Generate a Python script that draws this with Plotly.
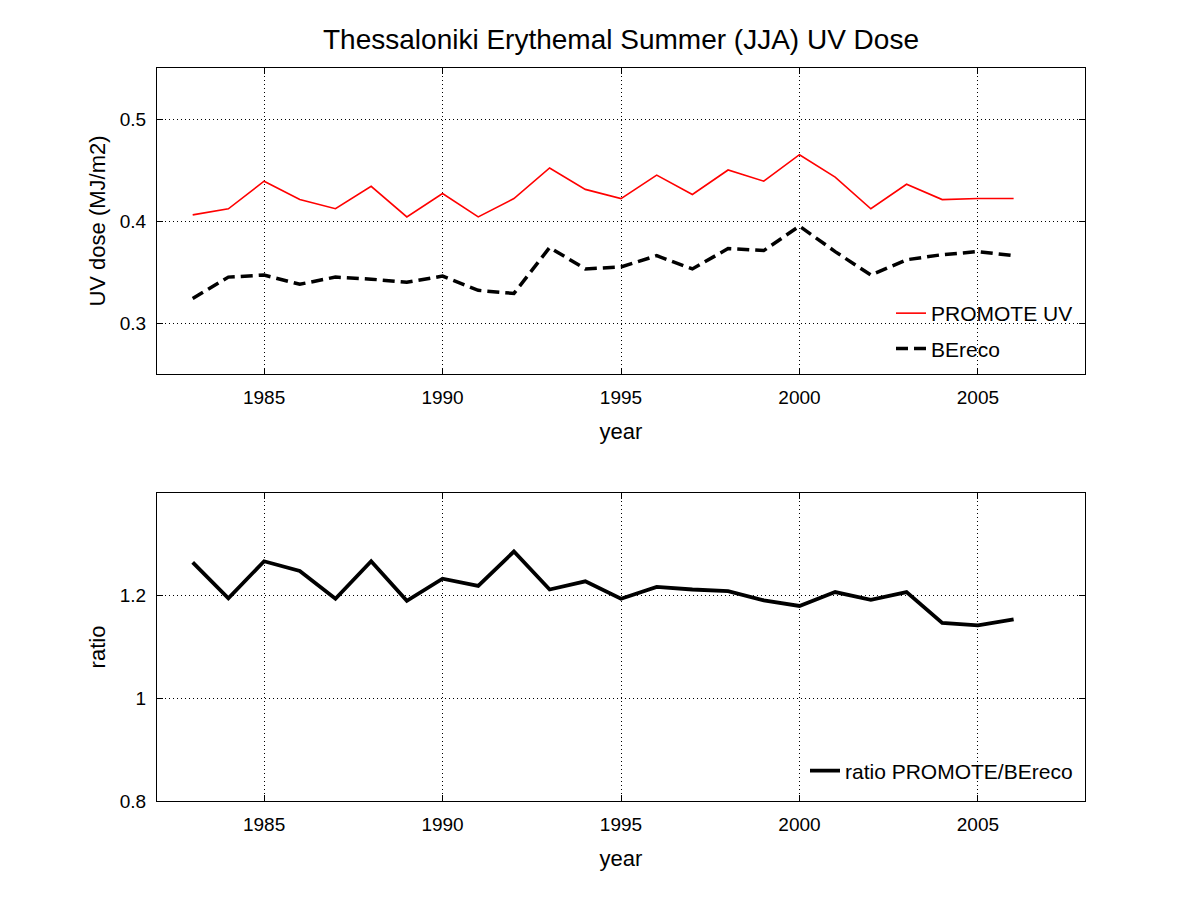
import plotly.graph_objects as go

years = list(range(1983, 2007))
promote_uv = [0.406, 0.412, 0.439, 0.421, 0.412, 0.434, 0.404, 0.427, 0.404, 0.422,
              0.452, 0.431, 0.422, 0.445, 0.426, 0.450, 0.439, 0.465, 0.443, 0.412,
              0.436, 0.421, 0.422, 0.422]
bereco = [0.324, 0.345, 0.347, 0.338, 0.345, 0.343, 0.340, 0.346, 0.332, 0.329,
          0.374, 0.353, 0.355, 0.366, 0.353, 0.373, 0.371, 0.395, 0.370, 0.347,
          0.362, 0.367, 0.370, 0.366]
ratio = [1.265, 1.195, 1.267, 1.248, 1.194, 1.267, 1.190, 1.233, 1.219, 1.286,
         1.212, 1.228, 1.194, 1.217, 1.212, 1.209, 1.191, 1.180, 1.207, 1.192,
         1.207, 1.147, 1.142, 1.154]

x_ticks = [1985, 1990, 1995, 2000, 2005]
top_ticks = [0.3, 0.4, 0.5]
top_tick_text = ["0.3", "0.4", "0.5"]
bot_ticks = [0.8, 1.0, 1.2]
bot_tick_text = ["0.8", "1", "1.2"]

FONT = "Liberation Sans, Arial, sans-serif"

fig = go.Figure()
fig.add_trace(go.Scatter(x=years, y=promote_uv, mode="lines", name="PROMOTE UV",
                         line=dict(color="red", width=1.6), xaxis="x", yaxis="y",
                         legend="legend", legendgroup="a"))
fig.add_trace(go.Scatter(x=years, y=bereco, mode="lines", name="BEreco",
                         line=dict(color="black", width=3.5, dash="12px,6px"),
                         xaxis="x", yaxis="y", legend="legend", legendgroup="b"))
fig.add_trace(go.Scatter(x=years, y=ratio, mode="lines", name="ratio PROMOTE/BEreco",
                         line=dict(color="black", width=3.8),
                         xaxis="x2", yaxis="y2", legend="legend2"))

H = 733.0
top_dom = [(801 - 374) / H, 1.0]
bot_dom = [0.0, (801 - 493) / H]

axis_common = dict(
    showline=True, linecolor="black", linewidth=1, mirror="ticks",
    ticks="inside", ticklen=6, tickcolor="black",
    showgrid=True, gridcolor="black", griddash="1px,3px", gridwidth=1,
    zeroline=False, tickfont=dict(size=19, color="black", family=FONT),
    title_font=dict(size=22, color="black", family=FONT),
)

fig.update_layout(
    width=1200, height=900,
    paper_bgcolor="white", plot_bgcolor="white",
    margin=dict(l=149, r=123, t=60, b=107),
    font=dict(family=FONT, color="black", size=19),
    title=dict(text="Thessaloniki Erythemal Summer (JJA) UV Dose",
               xref="paper", x=0.5, xanchor="center",
               yref="container", y=1 - 31 / 900, yanchor="middle",
               font=dict(size=28, color="black", family=FONT)),
    xaxis=dict(domain=[0, 1], anchor="y", range=[1982, 2008], tickvals=x_ticks,
               ticklabelstandoff=6,
               title=dict(text="year", standoff=16), **axis_common),
    yaxis=dict(domain=top_dom, anchor="x", range=[0.25, 0.55], tickvals=top_ticks,
               ticktext=top_tick_text, ticklabelstandoff=6,
               title=dict(text="UV dose (MJ/m2)", standoff=8), **axis_common),
    xaxis2=dict(domain=[0, 1], anchor="y2", range=[1982, 2008], tickvals=x_ticks,
                ticklabelstandoff=6,
                title=dict(text="year", standoff=16), **axis_common),
    yaxis2=dict(domain=bot_dom, anchor="x2", range=[0.8, 1.4], tickvals=bot_ticks,
                ticktext=bot_tick_text, ticklabelstandoff=6,
                title=dict(text="ratio", standoff=8), **axis_common),
    legend=dict(x=(1078 - 157) / 928, xanchor="right", y=(801 - 331) / H,
                yanchor="middle", bgcolor="rgba(0,0,0,0)", borderwidth=0,
                font=dict(size=21, color="black", family=FONT),
                tracegroupgap=5),
    legend2=dict(x=(1078 - 157) / 928, xanchor="right", y=(801 - 771) / H,
                 yanchor="middle", bgcolor="rgba(0,0,0,0)", borderwidth=0,
                 font=dict(size=21, color="black", family=FONT)),
    showlegend=True,
)

fig.write_html("out.html")
